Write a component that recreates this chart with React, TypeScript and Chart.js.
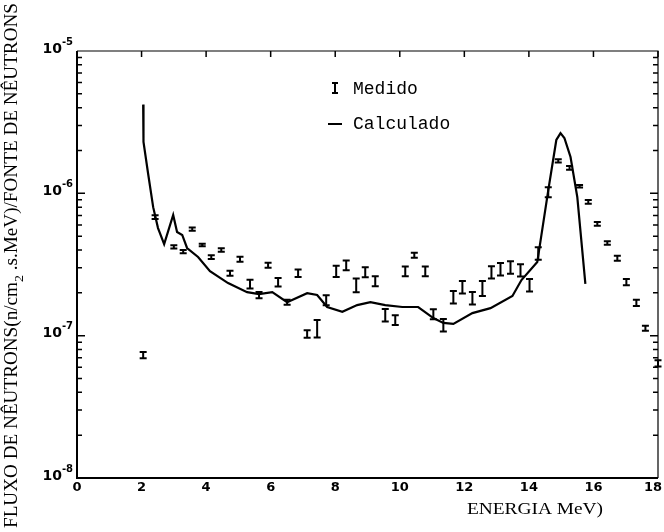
import React, { useEffect, useRef } from "react";
import { Chart, registerables } from "chart.js";

Chart.register(...registerables);

// Calculated spectrum (line)
const calcEnergy = [2.05, 2.06, 2.2, 2.36, 2.51, 2.7, 2.98, 3.1, 3.26, 3.41, 3.75, 4.12, 4.68, 5.27, 5.64, 6.05, 6.51, 7.13, 7.44, 7.75, 8.22, 8.68, 9.09, 9.55, 10.08, 10.57, 11.04, 11.35, 11.66, 12.25, 12.81, 13.49, 13.77, 14.26, 14.6, 14.85, 14.98, 15.1, 15.29, 15.5, 15.75];
const calcFlux = [4.2e-6, 2.3e-6, 1.39e-6, 8.0e-7, 5.7e-7, 4.4e-7, 7.05e-7, 5.35e-7, 5.1e-7, 4.13e-7, 3.57e-7, 2.84e-7, 2.34e-7, 2.02e-7, 1.96e-7, 2.02e-7, 1.72e-7, 1.99e-7, 1.93e-7, 1.59e-7, 1.47e-7, 1.64e-7, 1.72e-7, 1.64e-7, 1.59e-7, 1.59e-7, 1.33e-7, 1.23e-7, 1.21e-7, 1.44e-7, 1.56e-7, 1.9e-7, 2.46e-7, 3.29e-7, 1.05e-6, 2.37e-6, 2.65e-6, 2.45e-6, 1.8e-6, 9.4e-7, 2.31e-7];

// Measured spectrum (points with error bars)
const measEnergy = [2.05, 2.42, 3.0, 3.29, 3.57, 3.88, 4.16, 4.47, 4.74, 5.05, 5.36, 5.64, 5.92, 6.23, 6.51, 6.85, 7.13, 7.44, 7.72, 8.03, 8.34, 8.65, 8.93, 9.24, 9.55, 9.86, 10.17, 10.45, 10.79, 11.04, 11.35, 11.66, 11.94, 12.25, 12.56, 12.84, 13.12, 13.43, 13.74, 14.02, 14.29, 14.6, 14.91, 15.26, 15.57, 15.84, 16.12, 16.43, 16.74, 17.02, 17.33, 17.61, 18.0];
const measFlux = [7.3e-8, 6.8e-7, 4.2e-7, 3.9e-7, 5.6e-7, 4.33e-7, 3.57e-7, 4.0e-7, 2.75e-7, 3.45e-7, 2.31e-7, 1.93e-7, 3.13e-7, 2.38e-7, 1.72e-7, 2.75e-7, 1.03e-7, 1.13e-7, 1.78e-7, 2.84e-7, 3.13e-7, 2.27e-7, 2.8e-7, 2.42e-7, 1.4e-7, 1.29e-7, 2.84e-7, 3.68e-7, 2.84e-7, 1.42e-7, 1.19e-7, 1.87e-7, 2.2e-7, 1.84e-7, 2.16e-7, 2.8e-7, 2.94e-7, 3.03e-7, 2.89e-7, 2.27e-7, 3.8e-7, 1.02e-6, 1.69e-6, 1.51e-6, 1.12e-6, 8.7e-7, 6.1e-7, 4.48e-7, 3.5e-7, 2.38e-7, 1.7e-7, 1.13e-7, 6.4e-8];
const measRelErr = [0.05, 0.03, 0.01, 0.01, 0.01, 0.02, 0.03, 0.03, 0.04, 0.04, 0.07, 0.05, 0.04, 0.07, 0.04, 0.06, 0.06, 0.14, 0.08, 0.09, 0.08, 0.11, 0.08, 0.08, 0.1, 0.08, 0.08, 0.04, 0.08, 0.08, 0.1, 0.1, 0.1, 0.1, 0.12, 0.1, 0.1, 0.1, 0.1, 0.1, 0.1, 0.08, 0.01, 0.03, 0.02, 0.03, 0.03, 0.03, 0.04, 0.05, 0.05, 0.04, 0.05];

const xTicks = [0, 2, 4, 6, 8, 10, 12, 14, 16, 18];
const yDecades = [-8, -7, -6, -5];

const yTitleA = "FLUXO DE NÊUTRONS(n/cm";
const yTitleSup = "2";
const yTitleB = " .s.MeV)/FONTE DE NÊUTRONS";
const xTitle = "ENERGIA MeV)";
const legendMeasured = "Medido";
const legendCalculated = "Calculado";

const drawPlugin = {
  id: "paperDecor",
  afterDraw(chart: any) {
    const ctx = chart.ctx;
    const xs = chart.scales.x;
    const ys = chart.scales.y;
    const { left, right, top, bottom } = chart.chartArea;
    ctx.save();
    ctx.strokeStyle = "#000";
    ctx.fillStyle = "#000";

    // frame
    ctx.lineWidth = 2;
    ctx.beginPath();
    ctx.moveTo(left, top);
    ctx.lineTo(left, bottom);
    ctx.lineTo(right, bottom);
    ctx.stroke();
    ctx.lineWidth = 1.2;
    ctx.beginPath();
    ctx.moveTo(left, top);
    ctx.lineTo(right, top);
    ctx.lineTo(right, bottom);
    ctx.stroke();

    // y ticks (log)
    ctx.lineWidth = 1.5;
    for (let d = -8; d < -5; d++) {
      for (let m = 1; m <= 9; m++) {
        const v = m * Math.pow(10, d);
        const py = ys.getPixelForValue(v);
        const len = m === 1 ? 8 : 5;
        ctx.beginPath();
        ctx.moveTo(left, py);
        ctx.lineTo(left + len, py);
        ctx.moveTo(right, py);
        ctx.lineTo(right - len, py);
        ctx.stroke();
      }
    }
    // x ticks on top
    for (const t of xTicks) {
      const px = xs.getPixelForValue(t);
      ctx.beginPath();
      ctx.moveTo(px, top);
      ctx.lineTo(px, top + 6);
      ctx.stroke();
    }

    // y tick labels 10^n
    for (const d of yDecades) {
      const py = ys.getPixelForValue(Math.pow(10, d));
      ctx.textAlign = "right";
      ctx.textBaseline = "middle";
      const sup = String(d);
      ctx.font = 'bold 10px "DejaVu Sans"';
      const supW = ctx.measureText(sup).width;
      const xEnd = left - 4;
      ctx.fillText(sup, xEnd, py - 9);
      ctx.font = 'bold 14px "DejaVu Sans"';
      ctx.fillText("10", xEnd - supW, py - 2);
    }

    // x tick labels
    ctx.font = 'bold 13px "DejaVu Sans"';
    ctx.textAlign = "center";
    ctx.textBaseline = "middle";
    for (const t of xTicks) {
      const px = xs.getPixelForValue(t);
      ctx.fillText(String(t), Math.min(px, 653), bottom + 10);
    }

    // x title
    ctx.font = '16px "Liberation Serif"';
    const xtw = ctx.measureText(xTitle).width;
    ctx.save();
    ctx.translate(467, bottom + 32);
    ctx.scale(136 / xtw, 1);
    ctx.textAlign = "left";
    ctx.fillText(xTitle, 0, 0);
    ctx.restore();

    // y title (rotated)
    ctx.save();
    ctx.font = '18px "Liberation Serif"';
    const wa = ctx.measureText(yTitleA).width;
    const wb = ctx.measureText(yTitleB).width;
    ctx.font = '13px "Liberation Serif"';
    const ws = ctx.measureText(yTitleSup).width;
    const total = wa + wb + ws;
    ctx.translate(12, 528);
    ctx.rotate(-Math.PI / 2);
    ctx.scale(525 / total, 1);
    ctx.textAlign = "left";
    ctx.textBaseline = "middle";
    ctx.font = '18px "Liberation Serif"';
    ctx.fillText(yTitleA, 0, 0);
    ctx.font = '13px "Liberation Serif"';
    ctx.fillText(yTitleSup, wa, 8);
    ctx.font = '18px "Liberation Serif"';
    ctx.fillText(yTitleB, wa + ws, 0);
    ctx.restore();

    // measured error bars
    ctx.lineWidth = 2;
    for (let i = 0; i < measEnergy.length; i++) {
      const px = xs.getPixelForValue(measEnergy[i]);
      const v = measFlux[i];
      const e = measRelErr[i];
      let y1 = ys.getPixelForValue(v * (1 + e));
      let y2 = ys.getPixelForValue(v * (1 - e));
      if (y2 - y1 < 2) {
        y1 -= 1;
        y2 += 1;
      }
      ctx.beginPath();
      ctx.moveTo(px, y1);
      ctx.lineTo(px, y2);
      ctx.moveTo(px - 3.5, y1);
      ctx.lineTo(px + 3.5, y1);
      ctx.moveTo(px - 3.5, y2);
      ctx.lineTo(px + 3.5, y2);
      ctx.stroke();
    }

    // legend
    ctx.font = '18px "Liberation Mono"';
    ctx.textAlign = "left";
    ctx.textBaseline = "middle";
    const lx = 335;
    ctx.lineWidth = 2;
    ctx.beginPath();
    ctx.moveTo(lx, 83);
    ctx.lineTo(lx, 93);
    ctx.moveTo(lx - 3, 83);
    ctx.lineTo(lx + 3, 83);
    ctx.moveTo(lx - 3, 93);
    ctx.lineTo(lx + 3, 93);
    ctx.stroke();
    ctx.fillText(legendMeasured, 353, 89);
    ctx.beginPath();
    ctx.moveTo(328, 124);
    ctx.lineTo(342, 124);
    ctx.stroke();
    ctx.fillText(legendCalculated, 353, 124);

    ctx.restore();
  },
};

export default function App() {
  const ref = useRef<HTMLCanvasElement | null>(null);
  useEffect(() => {
    document.body.style.margin = "0";
    const canvas = ref.current;
    if (!canvas) return;
    const chart = new Chart(canvas, {
      type: "line",
      data: {
        datasets: [
          {
            label: legendCalculated,
            data: calcEnergy.map((e, i) => ({ x: e, y: calcFlux[i] })),
            borderColor: "#000",
            borderWidth: 2.2,
            pointRadius: 0,
            tension: 0,
            fill: false,
          },
          {
            label: legendMeasured,
            data: measEnergy.map((e, i) => ({ x: e, y: measFlux[i] })),
            borderColor: "#000",
            showLine: false,
            pointRadius: 0,
          },
        ],
      },
      options: {
        animation: false,
        responsive: false,
        maintainAspectRatio: false,
        layout: { padding: { left: 77, right: 6, top: 51, bottom: 54 } },
        plugins: { legend: { display: false }, tooltip: { enabled: false } },
        scales: {
          x: { type: "linear", min: 0, max: 18, display: false },
          y: { type: "logarithmic", min: 1e-8, max: 1e-5, display: false },
        },
      },
      plugins: [drawPlugin],
    });
    return () => chart.destroy();
  }, []);
  return (
    <div style={{ width: 664, height: 532, background: "#fff" }}>
      <canvas ref={ref} width={664} height={532} style={{ display: "block" }} />
    </div>
  );
}
